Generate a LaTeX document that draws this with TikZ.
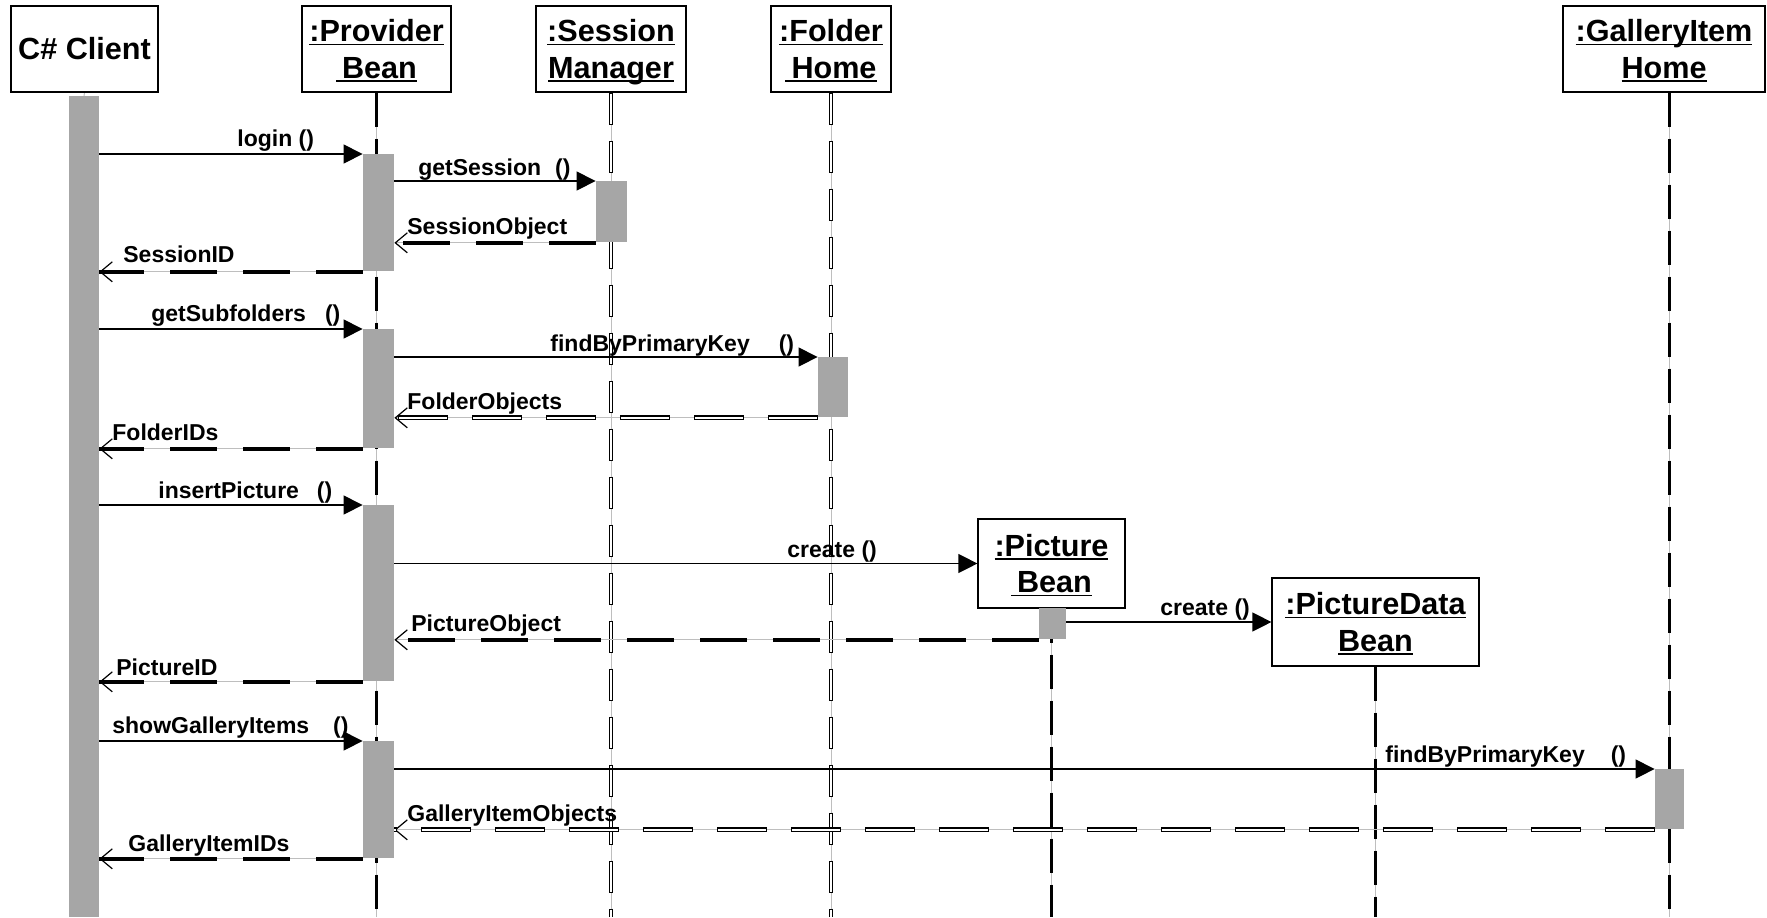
\documentclass[tikz,border=0pt]{standalone}
\usepackage{fontspec}
\setmainfont{Liberation Sans}
\usetikzlibrary{arrows.meta}
\pgfdeclarelayer{back}
\pgfsetlayers{back,main}
\definecolor{actgray}{RGB}{166,166,166}
\definecolor{guide}{RGB}{190,190,190}
% underlined header line whose rule does not add depth
\newsavebox{\ulbox}
\newcommand{\uln}[1]{{\sbox{\ulbox}{#1}\rlap{\smash{\rule[-1.6pt]{\wd\ulbox}{0.6pt}}}\raisebox{0pt}[\ht\ulbox][0pt]{\usebox{\ulbox}}}}
\begin{document}
\begin{tikzpicture}[x=0.5pt, y=-0.5pt,
  obj/.style={draw, line width=0.6pt, align=center, inner sep=0pt,
    font=\fontsize{15.3}{18.25}\selectfont\bfseries},
  act/.style={fill=actgray, draw=none, inner sep=0pt, anchor=north},
  lab/.style={font=\fontsize{11.5}{13}\selectfont\bfseries, inner sep=0pt, anchor=base west},
  call/.style={line width=0.6pt, -{Triangle[length=9.5pt,width=9.5pt]}},
  ret/.style={draw=guide, line width=0.5pt,
    -{Straight Barb[length=6pt,width=10pt,line width=0.6pt,color=black]},
    postaction={draw=black, line width=1.8pt, dash pattern=on 23.5pt off 13pt, -}},
  % hollow (outlined) dashes: black dash, then a slightly shorter white core
  hret/.style={draw=guide, line width=0.5pt,
    -{Straight Barb[length=6pt,width=10pt,line width=0.6pt,color=black]},
    postaction={draw=black, line width=2.4pt, dash pattern=on 25pt off 12pt, -},
    postaction={draw=white, line width=1.3pt, dash pattern=on 24pt off 13pt, dash phase=36.5pt, -}},
  life/.style={draw=guide, line width=0.5pt,
    postaction={draw=black, line width=1.5pt, dash pattern=on 17pt off 6pt}},
  hlife/.style={draw=guide, line width=0.5pt,
    postaction={draw=black, line width=2.3pt, dash pattern=on 16pt off 8pt},
    postaction={draw=white, line width=1.2pt, dash pattern=on 15pt off 9pt, dash phase=23.5pt}}
]
\useasboundingbox (0,0) rectangle (1767,917);
\coordinate (bot) at (0,917);

% object heads
\node[obj, minimum width=73.5pt, minimum height=43pt] (ch) at (84.5,49) {C\# Client};
\node[obj, minimum width=74.5pt, minimum height=43pt] (pb) at (376.5,49) {\uln{:Provider}\\\uln{\hspace{3pt}Bean}};
\node[obj, minimum width=75pt, minimum height=43pt] (sm) at (611,49) {\uln{:Session}\\\uln{Manager}};
\node[obj, minimum width=60pt, minimum height=43pt] (fh) at (831,49) {\uln{:Folder}\\\uln{\hspace{3pt}Home}};
\node[obj, minimum width=101pt, minimum height=43pt] (gh) at (1664,49) {\uln{:GalleryItem}\\\uln{Home}};
\node[obj, minimum width=73.5pt, minimum height=44.5pt] (pbx) at (1051.5,563.5) {\uln{:Picture}\\\uln{\hspace{3pt}Bean}};
\node[obj, minimum width=103.5pt, minimum height=44pt] (pd) at (1375.5,622) {\uln{:PictureData}\\\uln{Bean}};

% activation bars
\node[act, minimum width=15pt, minimum height=410.5pt] (ca) at (84,96) {};
\node[act, minimum width=15.5pt, minimum height=58.5pt] (pa1) at (378.5,154) {};
\node[act, minimum width=15.5pt, minimum height=59.5pt] (pa2) at (378.5,329) {};
\node[act, minimum width=15.5pt, minimum height=88pt] (pa3) at (378.5,505) {};
\node[act, minimum width=15.5pt, minimum height=58.5pt] (pa4) at (378.5,741) {};
\node[act, minimum width=15.5pt, minimum height=30.5pt] (sm1) at (611.5,181) {};
\node[act, minimum width=15pt, minimum height=30pt] (fh1) at (833,357) {};
\node[act, minimum width=13.5pt, minimum height=15.5pt] (pb1) at (1052.5,608) {};
\node[act, minimum width=14.5pt, minimum height=30pt] (gh1) at (1669.5,769) {};

% lifelines behind everything
\begin{pgfonlayer}{back}
\draw[draw=guide, line width=0.5pt] (ch.south) -- (ca.north);
\draw[life] (pb.south) -- (pb.south |- bot);
\draw[hlife] (sm.south) -- (sm.south |- bot);
\draw[hlife] (fh.south) -- (fh.south |- bot);
\draw[life] (pbx.south) -- (pbx.south |- bot);
\draw[life] (pd.south) -- (pd.south |- bot);
\draw[life] (gh.south -| gh1.north) -- (gh1.north |- bot);
\end{pgfonlayer}

% messages
\draw[call] (pa1.north west -| ca.east) -- (pa1.north west);
\draw[call] (sm1.north west -| pa1.east) -- (sm1.north west);
\draw[ret] (sm1.south west) -- (sm1.south west -| pa1.east);
\draw[ret] (pa1.south west) -- (pa1.south west -| ca.east);

\draw[call] (pa2.north west -| ca.east) -- (pa2.north west);
\draw[call] (fh1.north west -| pa2.east) -- (fh1.north west);
\draw[hret] (fh1.south west) -- (fh1.south west -| pa2.east);
\draw[ret] (pa2.south west) -- (pa2.south west -| ca.east);

\draw[call] (pa3.north west -| ca.east) -- (pa3.north west);
\draw[call] (pbx.west -| pa3.east) -- (pbx.west);
\draw[call] (pd.west -| pb1.east) -- (pd.west);
\draw[ret] (pb1.south west) -- (pb1.south west -| pa3.east);
\draw[ret] (pa3.south west) -- (pa3.south west -| ca.east);

\draw[call] (pa4.north west -| ca.east) -- (pa4.north west);
\draw[call] (gh1.north west -| pa4.east) -- (gh1.north west);
\draw[hret] (gh1.south west) -- (gh1.south west -| pa4.east);
\draw[ret] (pa4.south west) -- (pa4.south west -| ca.east);

% message labels
\node[lab] (t1) at (237,146) {login ()};
\node[lab] (t2) at (418,175) {getSession\hspace{7pt}()};
\node[lab] (t3) at (407,234) {SessionObject};
\node[lab] (t4) at (123,262) {SessionID};
\node[lab] (t5) at (151,321) {getSubfolders\hspace{9.5pt}()};
\node[lab] (t6) at (550,351) {findByPrimaryKey\hspace{14.5pt}()};
\node[lab] (t7) at (407,409) {FolderObjects};
\node[lab] (t8) at (112,440) {FolderIDs};
\node[lab] (t9) at (158,498) {insertPicture\hspace{9pt}()};
\node[lab] (t10) at (787,557) {create ()};
\node[lab] (t11) at (411,631) {PictureObject};
\node[lab] (t12) at (1160,615) {create ()};
\node[lab] (t13) at (116,675) {PictureID};
\node[lab] (t14) at (112,733) {showGalleryItems\hspace{12pt}()};
\node[lab] (t15) at (1385,762) {findByPrimaryKey\hspace{13pt}()};
\node[lab] (t16) at (407,821) {GalleryItemObjects};
\node[lab] (t17) at (128,851) {GalleryItemIDs};
\end{tikzpicture}
\end{document}
